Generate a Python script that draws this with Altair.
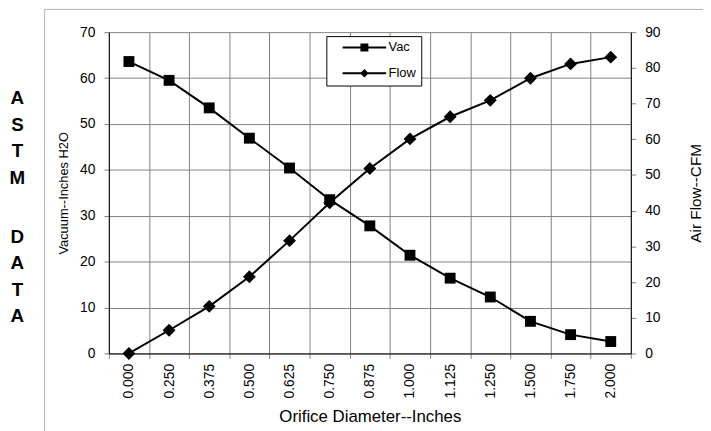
import altair as alt
import pandas as pd

diameters = ["0.000", "0.250", "0.375", "0.500", "0.625", "0.750", "0.875",
             "1.000", "1.125", "1.250", "1.500", "1.750", "2.000"]
vac = [63.6, 59.5, 53.5, 46.9, 40.4, 33.5, 27.8, 21.4, 16.4, 12.3, 7.0, 4.1, 2.6]
flow = [0.0, 6.5, 13.2, 21.5, 31.6, 42.2, 51.8, 60.1, 66.3, 70.9, 77.1, 81.1, 83.0]
series_names = ["Vac", "Flow"]
astm_word1 = ["A", "S", "T", "M"]
astm_word2 = ["D", "A", "T", "A"]

FONT = "Liberation Sans"
df = pd.DataFrame({"d": diameters, "vac": vac, "flow": flow})
one = pd.DataFrame({"k": [0]})

x_enc = alt.X(
    "d:N", sort=diameters,
    scale=alt.Scale(paddingInner=0, paddingOuter=0),
    axis=alt.Axis(
        title="Orifice Diameter--Inches", labelAngle=-90, tickBand="extent",
        grid=True, gridColor="#808080", gridWidth=1, gridOpacity=1,
        domainColor="black", domainWidth=1, tickColor="#808080", tickSize=5,
        labelPadding=5, labelFontSize=14, labelFont=FONT, labelColor="black",
        titleFont=FONT, titleFontSize=17, titleFontWeight="normal",
        titleColor="black", titlePadding=11,
    ),
)

y_vac = alt.Y(
    "vac:Q", scale=alt.Scale(domain=[0, 70], nice=False),
    axis=alt.Axis(
        orient="left", title="Vacuum--Inches H2O", values=list(range(0, 71, 10)),
        grid=True, gridColor="#808080", gridWidth=1, gridOpacity=1,
        domainColor="black", tickColor="#808080", tickSize=5, labelPadding=9,
        labelFont=FONT, labelFontSize=14, labelColor="black",
        titleFont=FONT, titleFontSize=13, titleFontWeight="normal",
        titleColor="black", titlePadding=9,
    ),
)

y_flow = alt.Y(
    "flow:Q", scale=alt.Scale(domain=[0, 90], nice=False),
    axis=alt.Axis(
        orient="right", title="Air Flow--CFM", values=list(range(0, 91, 10)),
        grid=False, domainColor="black", tickColor="#808080", tickSize=5,
        labelPadding=9, labelFont=FONT, labelFontSize=14, labelColor="black",
        titleFont=FONT, titleFontSize=15.5, titleFontWeight="normal",
        titleColor="black", titleAngle=270, titleBaseline="top", titlePadding=29,
    ),
)

base = alt.Chart(df)
vac_layer = alt.layer(
    base.mark_line(color="black", strokeWidth=2).encode(x=x_enc, y=y_vac),
    base.mark_point(shape="square", filled=True, size=121, color="black", opacity=1).encode(x=x_enc, y=y_vac),
)
flow_layer = alt.layer(
    base.mark_line(color="black", strokeWidth=2).encode(x=x_enc, y=y_flow),
    base.mark_point(shape="diamond", filled=True, size=170, color="black", opacity=1).encode(x=x_enc, y=y_flow),
)

# legend (line + marker symbols); symbol size 144 -> unit = 6px
leg_df = pd.DataFrame({"series": series_names})
vac_sym = "M-3.67,-0.17H3.67V0.17H-3.67ZM-0.67,-0.67H0.67V0.67H-0.67Z"
flow_sym = "M-3.67,-0.17H3.67V0.17H-3.67ZM0,-0.72L0.72,0L0,0.72L-0.72,0Z"
legend_layer = alt.Chart(leg_df).mark_point(filled=True, color="black", opacity=1).encode(
    shape=alt.Shape(
        "series:N",
        scale=alt.Scale(domain=series_names, range=[vac_sym, flow_sym]),
        legend=alt.Legend(
            title=None, orient="none", legendX=220, legendY=4,
            strokeColor="black", fillColor="white", padding=5,
            symbolOffset=27, symbolSize=144, symbolFillColor="black",
            symbolStrokeWidth=0, symbolOpacity=1,
            labelFont=FONT, labelFontSize=13, labelColor="black", labelOffset=18,
            rowPadding=12, labelExpr="datum.label + '       '",
        ),
    )
).transform_filter("false")

astm_style = dict(font=FONT, fontSize=19, fontWeight="bold", lineHeight=26.8,
                  align="center", baseline="middle", color="black")
astm1 = alt.Chart(one).mark_text(text=astm_word1, **astm_style).encode(
    x=alt.value(-92.5), y=alt.value(67))
astm2 = alt.Chart(one).mark_text(text=astm_word2, **astm_style).encode(
    x=alt.value(-92.5), y=alt.value(207))

border = alt.Chart(one).mark_rect(
    fillOpacity=0, stroke="#b0b0b0", strokeWidth=1
).encode(x=alt.value(-65), x2=alt.value(700), y=alt.value(-23), y2=alt.value(500))

chart = alt.layer(border, vac_layer, flow_layer, legend_layer, astm1, astm2).resolve_scale(
    y="independent"
).properties(
    width=528, height=325, autosize="none",
    padding={"left": 102, "top": 22, "right": 73, "bottom": 76},
).configure_view(strokeWidth=0)

chart.save("out.html", embed_options={"renderer": "svg", "actions": False})
